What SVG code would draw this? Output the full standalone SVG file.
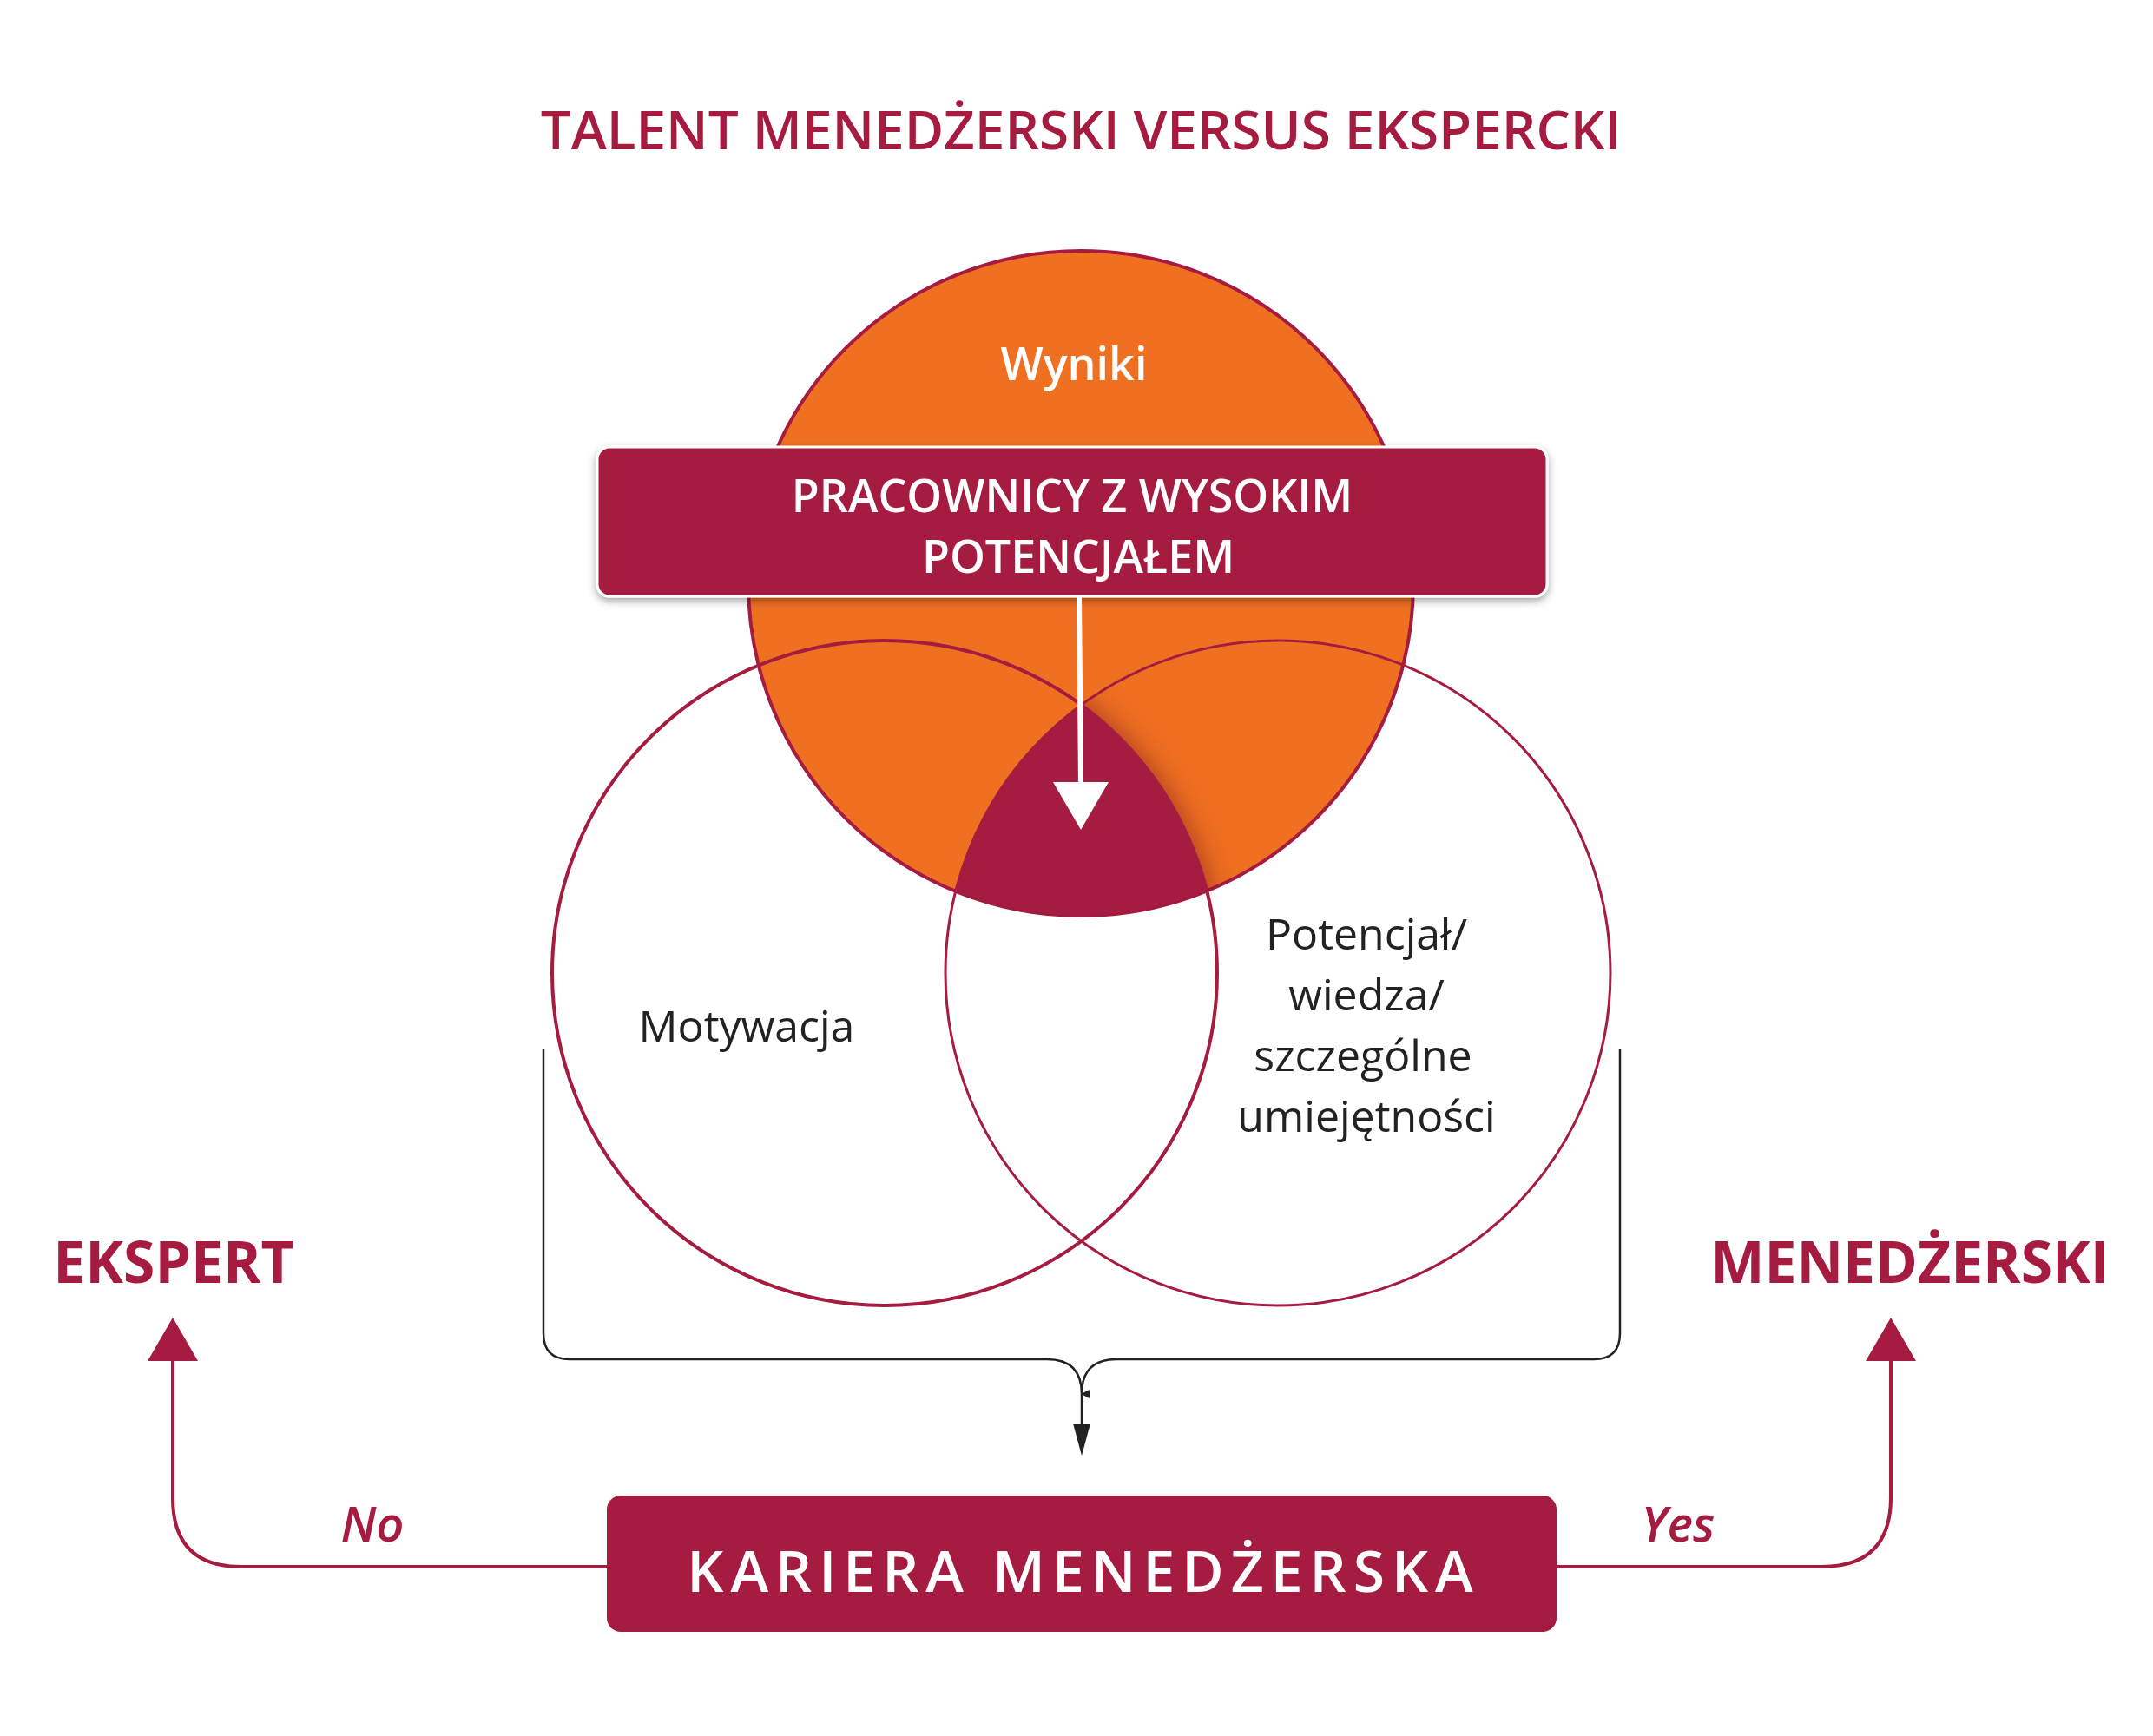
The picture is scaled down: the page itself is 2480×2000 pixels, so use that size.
<svg xmlns="http://www.w3.org/2000/svg" width="2480" height="2000" viewBox="0 0 2480 2000">
<style>
.t{font-family:"Open Sans","Noto Sans",sans-serif}
.cr{fill:#A51C40}
.w{fill:#fff}
.k{fill:#222}
.ln{fill:none;stroke:#A51C40;stroke-width:4}
</style>
<defs>
<clipPath id="cO"><circle cx="1245" cy="672" r="383"/></clipPath>
<clipPath id="cR"><circle cx="1472" cy="1121" r="383"/></clipPath>
<filter id="sh" x="-20%" y="-20%" width="140%" height="140%"><feGaussianBlur stdDeviation="18"/></filter>
<filter id="ds" x="-5%" y="-20%" width="110%" height="150%"><feDropShadow dx="0" dy="4" stdDeviation="5" flood-opacity="0.35"/></filter>
<marker id="ab" markerWidth="10" markerHeight="10" refX="5" refY="9" orient="auto" markerUnits="userSpaceOnUse" viewBox="0 0 10 10"><path d="M0,0 L10,0 L5,10 z" fill="#222"/></marker>
</defs>
<rect width="2480" height="2000" fill="#fff"/>
<text class="t cr" x="1245" y="172" font-size="62" font-weight="600" text-anchor="middle">TALENT MENEDŻERSKI VERSUS EKSPERCKI</text>
<g id="orange">
<circle cx="1245" cy="672" r="383" fill="#F07022" stroke="#A51C40" stroke-width="4"/>
</g>
<g id="core" clip-path="url(#cO)">
<g clip-path="url(#cR)">
<circle cx="1019" cy="1121" r="383" fill="#5a0e20" filter="url(#sh)" opacity="0.6"/>
<circle cx="1019" cy="1121" r="383" fill="#A51C40"/>
</g>
</g>
<g id="left"><circle cx="1019" cy="1121" r="383" fill="none" stroke="#A51C40" stroke-width="4"/></g>
<g id="right"><circle cx="1472" cy="1121" r="383" fill="none" stroke="#A51C40" stroke-width="3"/></g>
<text class="t w" x="1237" y="438" font-size="52" font-weight="600" text-anchor="middle">Wyniki</text>
<g id="banner">
<rect x="688" y="515" width="1094" height="172" rx="14" fill="#A51C40" stroke="#fff" stroke-width="3" filter="url(#ds)"/>
<text class="t w" x="1235" y="590" font-size="52" font-weight="600" text-anchor="middle">PRACOWNICY Z WYSOKIM</text>
<text class="t w" x="1242" y="660" font-size="52" font-weight="600" text-anchor="middle">POTENCJAŁEM</text>
</g>
<g id="connectors">
<path d="M1243,687 L1245,905" stroke="#fff" stroke-width="6"/>
<path d="M1213,901 L1277,901 L1245,956 z" fill="#fff"/>
<path d="M626,1208 V1536 Q626,1566 656,1566 H1206 Q1246,1566 1246,1606 V1672 M1866,1208 V1536 Q1866,1566 1836,1566 H1286 Q1246,1566 1246,1606" fill="none" stroke="#222" stroke-width="2.5" marker-end="url(#ab)"/>
<path d="M1236,1640 L1256,1640 L1246,1677 z" fill="#222"/>
<path class="ln" d="M700,1805 H278 Q199,1805 199,1726 V1565"/>
<path d="M170,1568 L228,1568 L199,1518 z" class="cr"/>
<path class="ln" d="M1793,1805 H2098 Q2178,1805 2178,1725 V1565"/>
<path d="M2149,1568 L2207,1568 L2178,1518 z" class="cr"/>
</g>
<text class="t k" x="860" y="1200" font-size="50" text-anchor="middle">Motywacja</text>
<g class="t k" font-size="50" text-anchor="middle">
<text x="1574" y="1094">Potencjał/</text>
<text x="1574" y="1164">wiedza/</text>
<text x="1570" y="1234">szczególne</text>
<text x="1574" y="1304">umiejętności</text>
</g>
<text class="t cr" x="200" y="1478" font-size="66" font-weight="700" text-anchor="middle">EKSPERT</text>
<text class="t cr" x="2200" y="1478" font-size="66" font-weight="700" text-anchor="middle">MENEDŻERSKI</text>
<text class="t cr" x="429" y="1776" font-size="56" font-weight="600" font-style="italic" text-anchor="middle">No</text>
<text class="t cr" x="1933" y="1776" font-size="56" font-weight="600" font-style="italic" text-anchor="middle">Yes</text>
<g id="career">
<rect x="699" y="1723" width="1094" height="157" rx="16" fill="#A51C40"/>
<text class="t w" x="1248" y="1834" font-size="66" font-weight="600" letter-spacing="8" text-anchor="middle">KARIERA MENEDŻERSKA</text>
</g>
</svg>
